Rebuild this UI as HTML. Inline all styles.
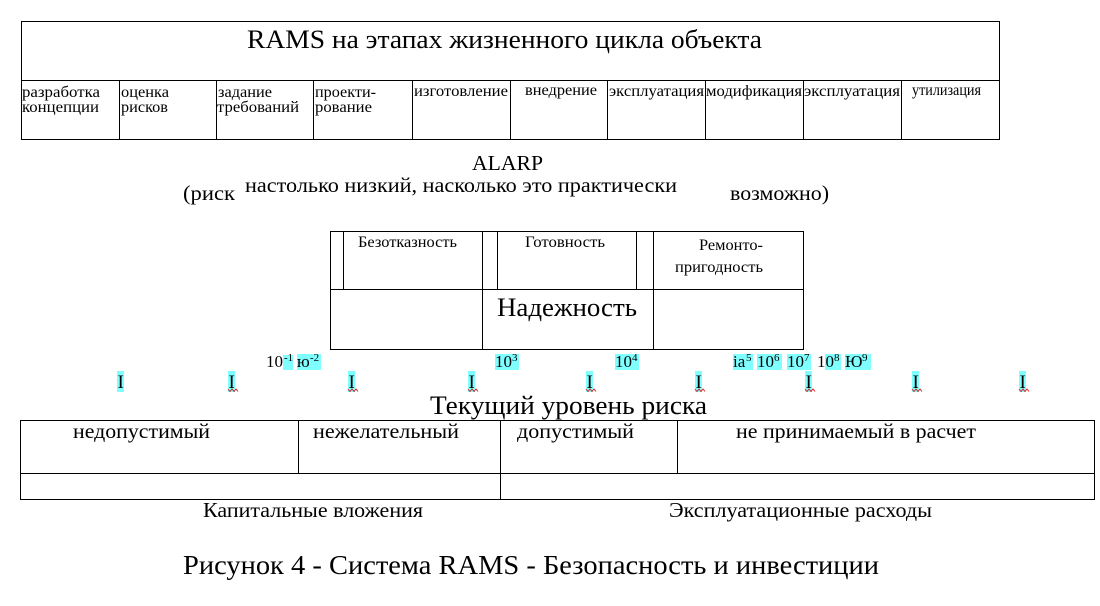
<!DOCTYPE html>
<html><head><meta charset="utf-8">
<style>
html,body{margin:0;padding:0;background:#fff;}
svg{display:block;}
text{font-family:"Liberation Serif","Times New Roman",serif;fill:#000;}
</style></head><body>
<svg width="1100" height="606" viewBox="0 0 1100 606" xmlns="http://www.w3.org/2000/svg">
<g stroke="#000" stroke-width="1" fill="none" shape-rendering="crispEdges">
  <!-- top table -->
  <line x1="21" y1="21.5" x2="999.5" y2="21.5"/>
  <line x1="21" y1="139.5" x2="999.5" y2="139.5"/>
  <line x1="21.5" y1="21" x2="21.5" y2="140"/>
  <line x1="999.5" y1="21" x2="999.5" y2="140"/>
  <line x1="21" y1="80.5" x2="999.5" y2="80.5"/>
  <line x1="119.5" y1="80" x2="119.5" y2="140"/>
  <line x1="216.5" y1="80" x2="216.5" y2="140"/>
  <line x1="313.5" y1="80" x2="313.5" y2="140"/>
  <line x1="412.5" y1="80" x2="412.5" y2="140"/>
  <line x1="510.5" y1="80" x2="510.5" y2="140"/>
  <line x1="607.5" y1="80" x2="607.5" y2="140"/>
  <line x1="705.5" y1="80" x2="705.5" y2="140"/>
  <line x1="803.5" y1="80" x2="803.5" y2="140"/>
  <line x1="901.5" y1="80" x2="901.5" y2="140"/>
  <!-- middle box -->
  <line x1="330" y1="231.5" x2="804" y2="231.5"/>
  <line x1="330" y1="349.5" x2="804" y2="349.5"/>
  <line x1="330.5" y1="231" x2="330.5" y2="350"/>
  <line x1="803.5" y1="231" x2="803.5" y2="350"/>
  <line x1="330" y1="289.5" x2="804" y2="289.5"/>
  <line x1="343.5" y1="231" x2="343.5" y2="290"/>
  <line x1="482.5" y1="231" x2="482.5" y2="350"/>
  <line x1="497.5" y1="231" x2="497.5" y2="290"/>
  <line x1="636.5" y1="231" x2="636.5" y2="290"/>
  <line x1="653.5" y1="231" x2="653.5" y2="350"/>
  <!-- bottom table -->
  <line x1="20" y1="420.5" x2="1095" y2="420.5"/>
  <line x1="20" y1="499.5" x2="1095" y2="499.5"/>
  <line x1="20.5" y1="420" x2="20.5" y2="500"/>
  <line x1="1094.5" y1="420" x2="1094.5" y2="500"/>
  <line x1="20" y1="473.5" x2="1095" y2="473.5"/>
  <line x1="298.5" y1="420" x2="298.5" y2="474"/>
  <line x1="500.5" y1="420" x2="500.5" y2="500"/>
  <line x1="677.5" y1="420" x2="677.5" y2="474"/>
</g>

<!-- top table text -->
<text x="247" y="48" font-size="26" textLength="515" lengthAdjust="spacingAndGlyphs">RAMS на этапах жизненного цикла объекта</text>
<g font-size="16">
  <text x="22" y="97" textLength="78" lengthAdjust="spacingAndGlyphs">разработка</text>
  <text x="22" y="112" textLength="77" lengthAdjust="spacingAndGlyphs">концепции</text>
  <text x="121" y="97" textLength="48" lengthAdjust="spacingAndGlyphs">оценка</text>
  <text x="121" y="112" textLength="47" lengthAdjust="spacingAndGlyphs">рисков</text>
  <text x="218" y="97" textLength="54" lengthAdjust="spacingAndGlyphs">задание</text>
  <text x="217" y="112" textLength="82" lengthAdjust="spacingAndGlyphs">требований</text>
  <text x="315" y="97" textLength="61" lengthAdjust="spacingAndGlyphs">проекти-</text>
  <text x="315" y="112" textLength="57" lengthAdjust="spacingAndGlyphs">рование</text>
  <text x="414" y="96" textLength="94" lengthAdjust="spacingAndGlyphs">изготовление</text>
  <text x="525" y="95" textLength="72" lengthAdjust="spacingAndGlyphs">внедрение</text>
  <text x="609" y="96" textLength="95" lengthAdjust="spacingAndGlyphs">эксплуатация</text>
  <text x="706" y="96" textLength="96" lengthAdjust="spacingAndGlyphs">модификация</text>
  <text x="804" y="96" textLength="96" lengthAdjust="spacingAndGlyphs">эксплуатация</text>
  <text x="912" y="95" textLength="69" lengthAdjust="spacingAndGlyphs">утилизация</text>
</g>

<!-- ALARP -->
<g font-size="21">
  <text x="472" y="170" textLength="71" lengthAdjust="spacingAndGlyphs">ALARP</text>
  <text x="183" y="200" textLength="52" lengthAdjust="spacingAndGlyphs">(риск</text>
  <text x="245" y="192" textLength="432" lengthAdjust="spacingAndGlyphs">настолько низкий, насколько это практически</text>
  <text x="730" y="200" textLength="99" lengthAdjust="spacingAndGlyphs">возможно)</text>
</g>

<!-- middle box text -->
<g font-size="16">
  <text x="358" y="247" textLength="99" lengthAdjust="spacingAndGlyphs">Безотказность</text>
  <text x="525" y="247" textLength="80" lengthAdjust="spacingAndGlyphs">Готовность</text>
  <text x="699" y="250" textLength="64" lengthAdjust="spacingAndGlyphs">Ремонто-</text>
  <text x="675" y="272" textLength="88" lengthAdjust="spacingAndGlyphs">пригодность</text>
</g>
<text x="497" y="316" font-size="26" textLength="140" lengthAdjust="spacingAndGlyphs">Надежность</text>

<!-- numbers row -->
<g fill="#80ffff">
  <rect x="283" y="355" width="10" height="15"/>
  <rect x="297" y="354" width="24" height="16"/>
  <rect x="495" y="354" width="24" height="16"/>
  <rect x="615" y="354" width="24" height="16"/>
  <rect x="733" y="354" width="20" height="16"/>
  <rect x="757" y="354" width="25" height="16"/>
  <rect x="787" y="354" width="24" height="16"/>
  <rect x="825" y="354" width="16" height="16"/>
  <rect x="845" y="354" width="26" height="16"/>
</g>
<g font-size="17">
  <text x="266" y="367">10</text>
  <text x="297" y="367">ю</text>
  <text x="495" y="367">10</text>
  <text x="615" y="367">10</text>
  <text x="733" y="367">ia</text>
  <text x="757" y="367">10</text>
  <text x="787" y="367">10</text>
  <text x="817" y="367">10</text>
  <text x="845" y="367">Ю</text>
</g>
<g font-size="11">
  <text x="284" y="361">-1</text>
  <text x="310" y="361">-2</text>
  <text x="512" y="361">3</text>
  <text x="632" y="361">4</text>
  <text x="746" y="361">5</text>
  <text x="774" y="361">6</text>
  <text x="804" y="361">7</text>
  <text x="834" y="361">8</text>
  <text x="862" y="361">9</text>
</g>

<!-- I markers -->
<g fill="#80ffff">
  <rect x="117" y="371" width="7" height="21"/>
  <rect x="228" y="371" width="7" height="21"/>
  <rect x="348" y="371" width="7" height="21"/>
  <rect x="468" y="371" width="7" height="21"/>
  <rect x="586" y="371" width="7" height="21"/>
  <rect x="695" y="371" width="7" height="21"/>
  <rect x="805" y="371" width="7" height="21"/>
  <rect x="912" y="371" width="7" height="21"/>
  <rect x="1019" y="371" width="7" height="21"/>
</g>
<g font-size="19">
  <text x="117.5" y="388">I</text>
  <text x="228.5" y="388">I</text>
  <text x="348.5" y="388">I</text>
  <text x="468.5" y="388">I</text>
  <text x="586.5" y="388">I</text>
  <text x="695.5" y="388">I</text>
  <text x="805.5" y="388">I</text>
  <text x="912.5" y="388">I</text>
  <text x="1019.5" y="388">I</text>
</g>
<g fill="none" stroke="#e02020" stroke-width="1">
  <polyline points="228,389 230,391.5 232,389 234,391.5 236,389 238,391.5"/>
  <polyline points="348,389 350,391.5 352,389 354,391.5 356,389 358,391.5"/>
  <polyline points="468,389 470,391.5 472,389 474,391.5 476,389 478,391.5"/>
  <polyline points="586,389 588,391.5 590,389 592,391.5 594,389 596,391.5"/>
  <polyline points="695,389 697,391.5 699,389 701,391.5 703,389 705,391.5"/>
  <polyline points="805,389 807,391.5 809,389 811,391.5 813,389 815,391.5"/>
  <polyline points="912,389 914,391.5 916,389 918,391.5 920,389 922,391.5"/>
  <polyline points="1019,389 1021,391.5 1023,389 1025,391.5 1027,389 1029,391.5"/>
</g>

<!-- risk level -->
<text x="430" y="414" font-size="26" textLength="277" lengthAdjust="spacingAndGlyphs">Текущий уровень риска</text>
<g font-size="21">
  <text x="73" y="438" textLength="137" lengthAdjust="spacingAndGlyphs">недопустимый</text>
  <text x="313" y="438" textLength="146" lengthAdjust="spacingAndGlyphs">нежелательный</text>
  <text x="517" y="438" textLength="117" lengthAdjust="spacingAndGlyphs">допустимый</text>
  <text x="736" y="438" textLength="240" lengthAdjust="spacingAndGlyphs">не принимаемый в расчет</text>
  <text x="203" y="517" textLength="220" lengthAdjust="spacingAndGlyphs">Капитальные вложения</text>
  <text x="669" y="517" textLength="263" lengthAdjust="spacingAndGlyphs">Эксплуатационные расходы</text>
</g>

<!-- caption -->
<text x="183" y="574" font-size="27" textLength="696" lengthAdjust="spacingAndGlyphs">Рисунок 4 - Система RAMS - Безопасность и инвестиции</text>
</svg>
</body></html>
